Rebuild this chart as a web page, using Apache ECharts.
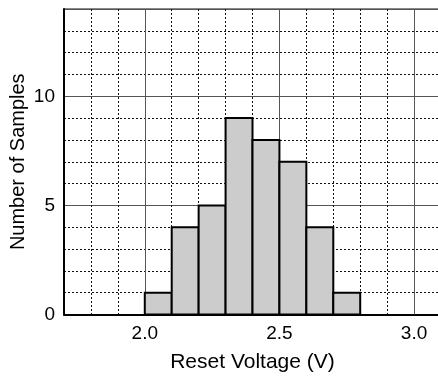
<!DOCTYPE html>
<html><head><meta charset="utf-8">
<script src="https://cdn.jsdelivr.net/npm/echarts@6/dist/echarts.min.js"></script>
<style>html,body{margin:0;padding:0;background:#fff}#c{width:438px;height:377px}</style>
</head><body><div id="c"></div>
<script>
const binStarts = [2.0, 2.1, 2.2, 2.3, 2.4, 2.5, 2.6, 2.7];
const binWidth = 0.1;
const counts = [1, 4, 5, 9, 8, 7, 4, 1];
const xMajorTicks = [2.0, 2.5, 3.0];
const xMin = 1.7, xMax = 3.1, xMinorStep = 0.1;
const yMin = 0, yMax = 14, yMinorStep = 1, yMajorStep = 5;
const xTitle = 'Reset Voltage (V)';
const yTitle = 'Number of Samples';

const FONT = '"Liberation Sans", Arial, Helvetica, sans-serif';
const chart = echarts.init(document.getElementById('c'), null, {renderer: 'canvas'});
const isMajor = v => xMajorTicks.some(m => Math.abs(m - v) < 1e-6);

chart.setOption({
  animation: false,
  backgroundColor: '#fff',
  grid: {left: 64, top: 9, width: 377, bottom: 62.5, containLabel: false, outerBoundsMode: 'none',
    show: true, borderColor: '#111', borderWidth: 1, backgroundColor: 'transparent'},
  xAxis: [{
    type: 'value', min: xMin, max: xMax, interval: xMinorStep,
    name: xTitle, nameLocation: 'middle', nameGap: 37, nameMoveOverlap: false,
    nameTextStyle: {fontFamily: FONT, fontSize: 21, color: '#000'},
    axisLine: {show: true, onZero: false, lineStyle: {color: '#000', width: 2}},
    axisTick: {show: false},
    axisLabel: {interval: 0, margin: 10, fontFamily: FONT, fontSize: 19, color: '#000',
      showMinLabel: false, showMaxLabel: false,
      formatter: v => isMajor(v) ? Number(v).toFixed(1) : ''},
    splitLine: {show: true, lineStyle: {color: '#111', width: 1, type: [2, 2]}}
  }],
  yAxis: [{
    type: 'value', min: yMin, max: yMax, interval: yMinorStep, position: 'left',
    axisLine: {show: true, lineStyle: {color: '#000', width: 2}},
    axisTick: {show: false},
    axisLabel: {show: false},
    splitLine: {show: true, lineStyle: {color: '#111', width: 1, type: [2, 2]}}
  }, {
    type: 'value', min: yMin, max: yMax, interval: yMajorStep, position: 'left',
    name: yTitle, nameLocation: 'middle', nameGap: 36, nameMoveOverlap: false,
    nameTextStyle: {fontFamily: FONT, fontSize: 20, color: '#000'},
    axisLine: {show: false},
    axisTick: {show: false},
    axisLabel: {margin: 9, fontFamily: FONT, fontSize: 19, color: '#000', showMaxLabel: false},
    splitLine: {show: true, lineStyle: {color: '#555', width: 1, type: 'solid'}}
  }],
  series: [{
    type: 'custom', z: 1, silent: true,
    xAxisIndex: 0, yAxisIndex: 0,
    data: xMajorTicks.map(v => [v]),
    encode: {x: 0},
    renderItem: (params, api) => {
      const v = api.value(0);
      const a = api.coord([v, yMin]);
      const b = api.coord([v, yMax]);
      return {type: 'line', shape: {x1: Math.round(a[0]) + 0.5, y1: a[1], x2: Math.round(b[0]) + 0.5, y2: b[1]},
        style: {stroke: '#555', lineWidth: 1}};
    }
  }, {
    type: 'custom', z: 3,
    xAxisIndex: 0, yAxisIndex: 0,
    data: binStarts.map((s, i) => [s, s + binWidth, counts[i]]),
    encode: {x: [0, 1], y: 2},
    renderItem: (params, api) => {
      const p0 = api.coord([api.value(0), api.value(2)]);
      const p1 = api.coord([api.value(1), 0]);
      return {type: 'rect',
        shape: {x: p0[0], y: p0[1], width: p1[0] - p0[0], height: p1[1] - p0[1]},
        style: {fill: '#cccccc', stroke: '#000', lineWidth: 2}};
    }
  }]
});
</script></body></html>
